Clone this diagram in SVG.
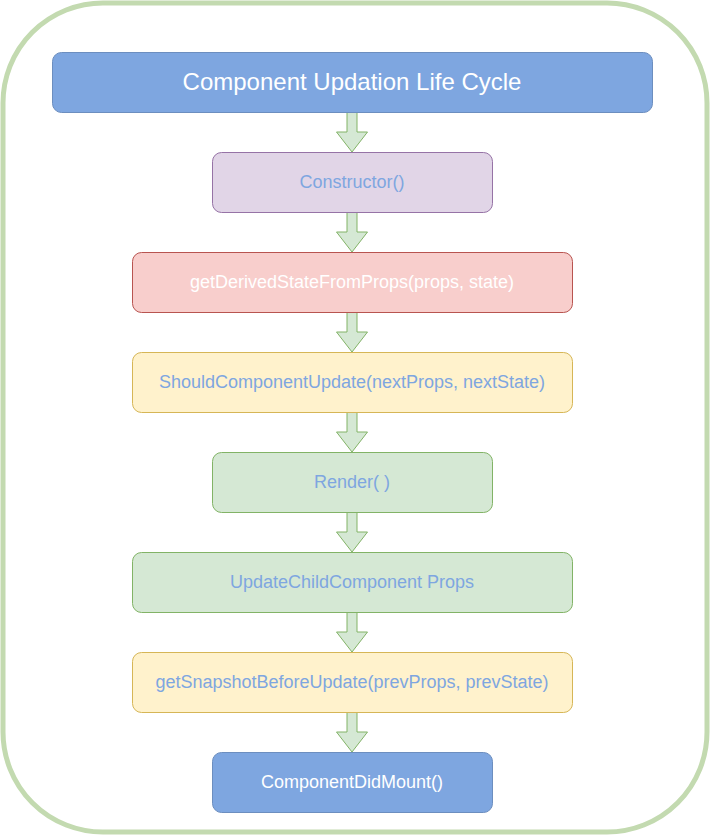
<svg xmlns="http://www.w3.org/2000/svg" width="710" height="835" viewBox="0 0 710 835">
<style>
.n{stroke-width:1}
.t{font-family:"Liberation Sans",Arial,sans-serif;font-size:18px;text-anchor:middle}
.b{fill:#7ea6e0}
.w{fill:#ffffff}
.arr{fill:#d5e8d4;stroke:#82b366;stroke-width:1}
</style>
<defs>
<path id="ar" d="M-5,0 L5,0 L5,20 L15.5,20 L0,40 L-15.5,20 L-5,20 Z"/>
</defs>
<rect x="3" y="3" width="704" height="829" rx="100" ry="100" fill="#ffffff" stroke="#c3dab0" stroke-width="5"/>
<g id="connectors" class="arr">
<use href="#ar" x="352" y="112"/>
<use href="#ar" x="352" y="212"/>
<use href="#ar" x="352" y="312"/>
<use href="#ar" x="352" y="412"/>
<use href="#ar" x="352" y="512"/>
<use href="#ar" x="352" y="612"/>
<use href="#ar" x="352" y="712"/>
</g>
<g id="title">
<rect class="n" x="52.5" y="52.5" width="600" height="60" rx="9" fill="#7ea6e0" stroke="#6c8ebf"/>
<text class="t w" x="352" y="90" style="font-size:24px">Component Updation Life Cycle</text>
</g>
<g id="constructor">
<rect class="n" x="212.5" y="152.5" width="280" height="60" rx="9" fill="#e1d5e7" stroke="#9673a6"/>
<text class="t b" x="352" y="188">Constructor()</text>
</g>
<g id="getDerived">
<rect class="n" x="132.5" y="252.5" width="440" height="60" rx="9" fill="#f8cecc" stroke="#b85450"/>
<text class="t w" x="352" y="288">getDerivedStateFromProps(props, state)</text>
</g>
<g id="shouldUpdate">
<rect class="n" x="132.5" y="352.5" width="440" height="60" rx="9" fill="#fff2cc" stroke="#d6b656"/>
<text class="t b" x="352" y="388">ShouldComponentUpdate(nextProps, nextState)</text>
</g>
<g id="render">
<rect class="n" x="212.5" y="452.5" width="280" height="60" rx="9" fill="#d5e8d4" stroke="#82b366"/>
<text class="t b" x="352" y="488">Render( )</text>
</g>
<g id="updateChild">
<rect class="n" x="132.5" y="552.5" width="440" height="60" rx="9" fill="#d5e8d4" stroke="#82b366"/>
<text class="t b" x="352" y="588">UpdateChildComponent Props</text>
</g>
<g id="getSnapshot">
<rect class="n" x="132.5" y="652.5" width="440" height="60" rx="9" fill="#fff2cc" stroke="#d6b656"/>
<text class="t b" x="352" y="688">getSnapshotBeforeUpdate(prevProps, prevState)</text>
</g>
<g id="didMount">
<rect class="n" x="212.5" y="752.5" width="280" height="60" rx="9" fill="#7ea6e0" stroke="#6c8ebf"/>
<text class="t w" x="352" y="788">ComponentDidMount()</text>
</g>
</svg>
